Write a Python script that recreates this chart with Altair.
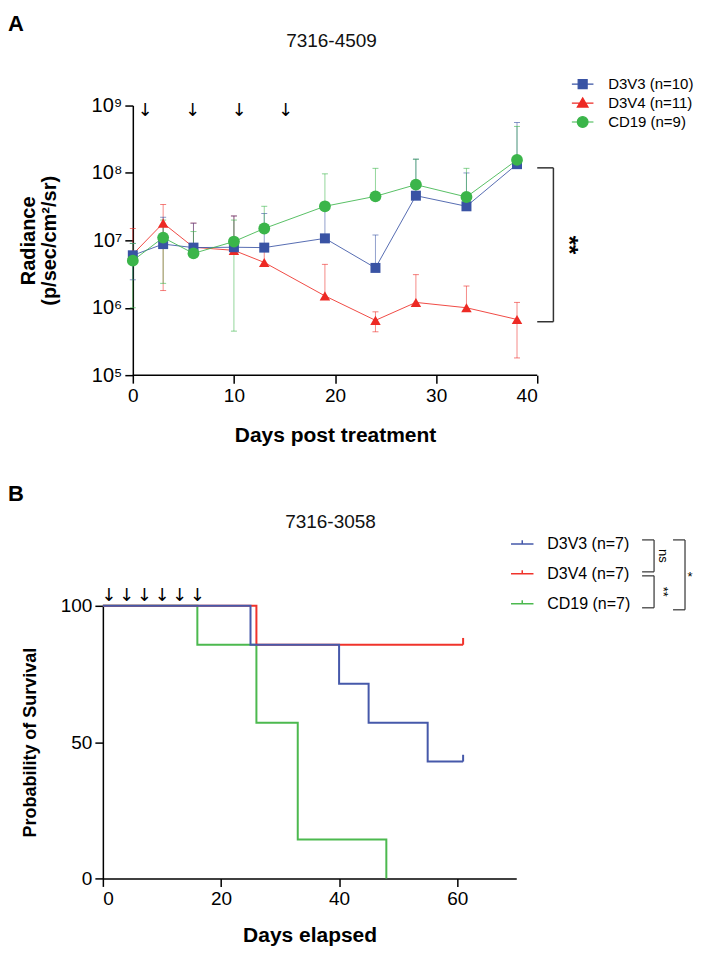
import altair as alt
import pandas as pd

FONT = "Liberation Sans"

# ---------------- Panel A : bioluminescence (7316-4509) ----------------
days_a = [0, 3, 6, 10, 13, 19, 24, 28, 33, 38]
series_a = ["D3V3 (n=10)", "D3V4 (n=11)", "CD19 (n=9)"]
colors_a = ["#3953A4", "#ED2A24", "#3BB54A"]
marker_a = ["square", "triangle-up", "circle"]
marker_size_a = [100, 110, 140]

d3v3_mean = [6.0e6, 8.8e6, 7.8e6, 7.9e6, 7.8e6, 1.07e7, 3.9e6, 4.6e7, 3.2e7, 1.35e8]
d3v3_hi = [9.0e6, 2.2e7, 1.8e7, 2.3e7, 2.5e7, 2.8e7, 1.2e7, 1.6e8, 1.0e8, 5.6e8]
d3v3_lo = [2.6e6, None, None, None, None, None, None, None, None, None]

d3v4_mean = [6.2e6, 1.8e7, 7.9e6, 7.1e6, 4.7e6, 1.5e6, 6.5e5, 1.2e6, 1.0e6, 6.7e5]
d3v4_hi = [1.5e7, 3.4e7, 1.8e7, 2.3e7, 7.5e6, 4.4e6, 8.7e5, 3.1e6, 2.1e6, 1.2e6]
d3v4_lo = [None, 1.8e6, None, None, None, None, 4.4e5, None, None, 1.8e5]

cd19_mean = [5.0e6, 1.1e7, 6.4e6, 9.6e6, 1.5e7, 3.2e7, 4.5e7, 6.7e7, 4.4e7, 1.56e8]
cd19_hi = [9.0e6, 2.0e7, 1.35e7, 2.0e7, 3.2e7, 9.7e7, 1.17e8, 1.6e8, 1.17e8, 4.9e8]
cd19_lo = [1.0e6, 2.3e6, None, 4.5e5, None, None, None, None, None, None]

treat_days_a = [1.2, 5.9, 10.5, 15.1]
bracket_a_x = [40, 41.6]
bracket_a_y = [1.19e8, 6.2e5]
stars_a = {"x": 43.0, "y": 8.5e6, "label": "**"}

# ---------------- Panel B : survival (7316-3058) ----------------
series_b = ["D3V3 (n=7)", "D3V4 (n=7)", "CD19 (n=7)"]
colors_b = ["#4659AA", "#F0332B", "#4CB94F"]
d3v3_t = [0, 25, 40, 45, 55, 61]
d3v3_s = [100, 85.71, 71.43, 57.14, 42.86, 42.86]
d3v4_t = [0, 26, 61]
d3v4_s = [100, 85.71, 85.71]
cd19_t = [0, 16, 26, 33, 48]
cd19_s = [100, 85.71, 57.14, 14.29, 0]
censor_series = ["D3V3 (n=7)", "D3V4 (n=7)"]
censor_t = [61, 61]
censor_s = [42.86, 85.71]
treat_days_b = [1, 4, 7, 10, 13, 16]

# ---------------- tables ----------------
rows = []
for name, mean, hi, lo in zip(series_a, [d3v3_mean, d3v4_mean, cd19_mean],
                              [d3v3_hi, d3v4_hi, cd19_hi], [d3v3_lo, d3v4_lo, cd19_lo]):
    for d, m, h, l in zip(days_a, mean, hi, lo):
        rows.append({"series": name, "day": d, "mean": m, "hi": h, "lo": l})
df_a = pd.DataFrame(rows)

rows = []
for name, t, s in zip(series_b, [d3v3_t, d3v4_t, cd19_t], [d3v3_s, d3v4_s, cd19_s]):
    for ti, si in zip(t, s):
        rows.append({"series": name, "t": ti, "s": si})
df_b = pd.DataFrame(rows)
df_cens = pd.DataFrame({"series": censor_series, "t": censor_t, "s": censor_s})

# ---------------- Panel A scales ----------------
WA, HA = 435, 270
xa_scale = alt.Scale(domain=[-2.963, 40], nice=False, zero=False)
ya_scale = alt.Scale(type="log", domain=[1e5, 1e9], nice=False)
xa_axis = alt.Axis(values=[0, 10, 20, 30, 40], title="Days post treatment", domain=False,
                   titleX=232.5, titleFontSize=21, titlePadding=19)
sup = "['\u2070','\u00b9','\u00b2','\u00b3','\u2074','\u2075','\u2076','\u2077','\u2078','\u2079']"
ya_axis = alt.Axis(values=[1e5, 1e6, 1e7, 1e8, 1e9], offset=-30,
                   labelExpr="'10' + " + sup + "[round(log(datum.value)/LN10)]",
                   labelFontSize=20,
                   title=["Radiance", "(p/sec/cm\u00b2/sr)"], titleFontSize=20,
                   titleLineHeight=21, titlePadding=32)


def XA(f):
    return alt.X(f, type="quantitative", scale=xa_scale, axis=xa_axis)


def YA(f):
    return alt.Y(f, type="quantitative", scale=ya_scale, axis=ya_axis)


layers_a = []
# x axis line from 0 to 40
layers_a.append(
    alt.Chart(pd.DataFrame({"x0": [0], "x1": [40], "y": [1e5]}))
    .mark_rule(color="black", strokeWidth=1.5)
    .encode(x=XA("x0"), x2="x1", y=YA("y"))
)
draw_order = [1, 0, 2]
for i in draw_order:
    d = df_a[df_a.series == series_a[i]]
    c = colors_a[i]
    layers_a.append(alt.Chart(d).mark_rule(color=c, strokeWidth=1, opacity=0.55)
                    .encode(x=XA("day"), y=YA("mean"), y2="hi"))
    layers_a.append(alt.Chart(d).mark_tick(color=c, orient="horizontal", size=6, thickness=1, opacity=0.6)
                    .encode(x=XA("day"), y=YA("hi")))
    dl = d.dropna(subset=["lo"])
    layers_a.append(alt.Chart(dl).mark_rule(color=c, strokeWidth=1, opacity=0.55)
                    .encode(x=XA("day"), y=YA("lo"), y2="mean"))
    layers_a.append(alt.Chart(dl).mark_tick(color=c, orient="horizontal", size=6, thickness=1, opacity=0.6)
                    .encode(x=XA("day"), y=YA("lo")))
for i in draw_order:
    d = df_a[df_a.series == series_a[i]]
    layers_a.append(alt.Chart(d).mark_line(color=colors_a[i], strokeWidth=1, opacity=0.85)
                    .encode(x=XA("day"), y=YA("mean")))
for i in draw_order:
    d = df_a[df_a.series == series_a[i]]
    layers_a.append(alt.Chart(d).mark_point(color=colors_a[i], shape=marker_a[i], filled=True,
                                            size=marker_size_a[i], opacity=1)
                    .encode(x=XA("day"), y=YA("mean")))

# treatment arrows
layers_a.append(alt.Chart(pd.DataFrame({"day": treat_days_a}))
                .mark_text(text="\u2193", font="DejaVu Sans", fontSize=18, baseline="middle", color="black")
                .encode(x=XA("day"), y=alt.value(5)))
# significance bracket
br = pd.DataFrame({"x0": [bracket_a_x[0], bracket_a_x[0]], "x1": [bracket_a_x[1], bracket_a_x[1]],
                   "y": bracket_a_y})
layers_a.append(alt.Chart(br).mark_rule(color="#333", strokeWidth=1.5)
                .encode(x=XA("x0"), x2="x1", y=YA("y")))
layers_a.append(alt.Chart(pd.DataFrame({"x": [bracket_a_x[1]], "y0": [bracket_a_y[0]], "y1": [bracket_a_y[1]]}))
                .mark_rule(color="#333", strokeWidth=1.5)
                .encode(x=XA("x"), y=YA("y0"), y2="y1"))
layers_a.append(alt.Chart(pd.DataFrame([stars_a]))
                .mark_text(font=FONT, fontSize=24, fontWeight="bold", angle=90, baseline="middle", align="center")
                .encode(x=XA("x"), y=YA("y"), text="label:N"))

# legend (line + marker symbols)
leg_paths_a = ["M-2.4,0H2.4M-1,-1H1V1H-1Z",
               "M-2.4,0H2.4M0,-1.15L1.2,0.9H-1.2Z",
               "M-2.4,0H2.4M1.2,0A1.2,1.2,0,1,1,-1.2,0A1.2,1.2,0,1,1,1.2,0Z"]
legA = alt.Legend(title=None, orient="none", legendX=473, legendY=-29, symbolSize=81,
                  symbolStrokeWidth=1.2, labelFontSize=15, labelOffset=18, rowPadding=2,
                  padding=0, labelFont=FONT, labelColor="black")
layers_a.append(
    alt.Chart(pd.DataFrame({"series": series_a})).transform_filter("false")
    .mark_point(filled=True, opacity=1)
    .encode(
        shape=alt.Shape("series:N", scale=alt.Scale(domain=series_a, range=leg_paths_a), legend=legA),
        fill=alt.Fill("series:N", scale=alt.Scale(domain=series_a, range=colors_a), legend=legA),
        stroke=alt.Stroke("series:N", scale=alt.Scale(domain=series_a, range=colors_a), legend=legA),
    )
)

# panel label and title
one = pd.DataFrame({"k": [0]})
layers_a.append(alt.Chart(one).mark_text(text="A", font=FONT, fontSize=22, fontWeight="bold",
                                          align="left", baseline="middle", color="black")
                .encode(x=alt.value(-95), y=alt.value(-82)))
layers_a.append(alt.Chart(one).mark_text(text="7316-4509", font=FONT, fontSize=19,
                                          align="center", baseline="middle", color="#111")
                .encode(x=alt.value(229), y=alt.value(-65)))

chart_a = alt.layer(*layers_a).properties(width=WA, height=HA)

# ---------------- Panel B ----------------
WB, HB = 414, 273
xb_scale = alt.Scale(domain=[0, 70], nice=False, zero=False)
yb_scale = alt.Scale(domain=[0, 100], nice=False)
xb_axis = alt.Axis(values=[0, 20, 40, 60], title="Days elapsed", titleFontSize=21, titlePadding=16)
yb_axis = alt.Axis(values=[0, 50, 100], title="Probability of Survival", titleFontSize=18, titlePadding=21)


def XB(f):
    return alt.X(f, type="quantitative", scale=xb_scale, axis=xb_axis)


def YB(f):
    return alt.Y(f, type="quantitative", scale=yb_scale, axis=yb_axis)


layers_b = []
for i in [2, 1, 0]:
    d = df_b[df_b.series == series_b[i]]
    layers_b.append(alt.Chart(d).mark_line(interpolate="step-after", color=colors_b[i], strokeWidth=2)
                    .encode(x=XB("t"), y=YB("s")))
for name in censor_series:
    i = series_b.index(name)
    d = df_cens[df_cens.series == name]
    layers_b.append(alt.Chart(d).transform_calculate(s2="datum.s + 2.5")
                    .mark_rule(color=colors_b[i], strokeWidth=2)
                    .encode(x=XB("t"), y=YB("s"), y2="s2:Q"))
layers_b.append(alt.Chart(pd.DataFrame({"t": treat_days_b}))
                .mark_text(text="\u2193", font="DejaVu Sans", fontSize=18, baseline="middle", color="black")
                .encode(x=XB("t"), y=alt.value(-10)))

leg_paths_b = ["M-2.5,0H2.5M0,0V-0.8"] * 3
legB = alt.Legend(title=None, orient="none", legendX=412, legendY=-70, symbolSize=81,
                  symbolStrokeWidth=1.5, labelFontSize=16, labelOffset=17, rowPadding=14,
                  padding=0, labelFont=FONT, labelColor="black")
layers_b.append(
    alt.Chart(pd.DataFrame({"series": series_b})).transform_filter("false")
    .mark_point(filled=False, opacity=1)
    .encode(
        shape=alt.Shape("series:N", scale=alt.Scale(domain=series_b, range=leg_paths_b), legend=legB),
        stroke=alt.Stroke("series:N", scale=alt.Scale(domain=series_b, range=colors_b), legend=legB),
    )
)


# significance brackets next to legend (pixel annotations)
def bracket(x0, x1, y0, y1):
    h = alt.Chart(one).mark_rule(color="#333", strokeWidth=1.2)
    return [
        h.encode(x=alt.value(x0), x2=alt.value(x1), y=alt.value(y0)),
        h.encode(x=alt.value(x0), x2=alt.value(x1), y=alt.value(y1)),
        h.encode(x=alt.value(x1), y=alt.value(y0), y2=alt.value(y1)),
    ]


layers_b += bracket(540, 552, -66, -34)
layers_b += bracket(540, 552, -30, 2)
layers_b += bracket(571, 583, -66, 4)


def sig(txt, x, y, angle):
    return (alt.Chart(one).mark_text(text=txt, font=FONT, fontSize=13, angle=angle,
                                     align="center", baseline="middle", color="black")
            .encode(x=alt.value(x), y=alt.value(y)))


layers_b.append(sig("ns", 561, -50, 90))
layers_b.append(sig("**", 561, -14, 90))
layers_b.append(sig("*", 588, -29, 0))

layers_b.append(alt.Chart(one).mark_text(text="B", font=FONT, fontSize=22, fontWeight="bold",
                                          align="left", baseline="middle", color="black")
                .encode(x=alt.value(-95), y=alt.value(-112)))
layers_b.append(alt.Chart(one).mark_text(text="7316-3058", font=FONT, fontSize=19,
                                          align="center", baseline="middle", color="#111")
                .encode(x=alt.value(228), y=alt.value(-84)))

chart_b = alt.layer(*layers_b).properties(width=WB, height=HB)

chart = (
    alt.vconcat(chart_a, chart_b, spacing=38)
    .resolve_scale(shape="independent", stroke="independent", fill="independent")
    .resolve_legend(shape="independent", stroke="independent", fill="independent")
    .properties(padding={"left": 0, "top": 4, "right": 0, "bottom": 0})
    .configure_view(stroke=None)
    .configure_axis(grid=False, domainColor="black", domainWidth=1.5, tickColor="black",
                    tickWidth=1.5, tickSize=8, labelFont=FONT, labelFontSize=19,
                    labelColor="black", titleFont=FONT, titleFontWeight="bold",
                    titleColor="black", labelPadding=3)
)

chart.save("out.html", embed_options={"renderer": "svg", "actions": False})
